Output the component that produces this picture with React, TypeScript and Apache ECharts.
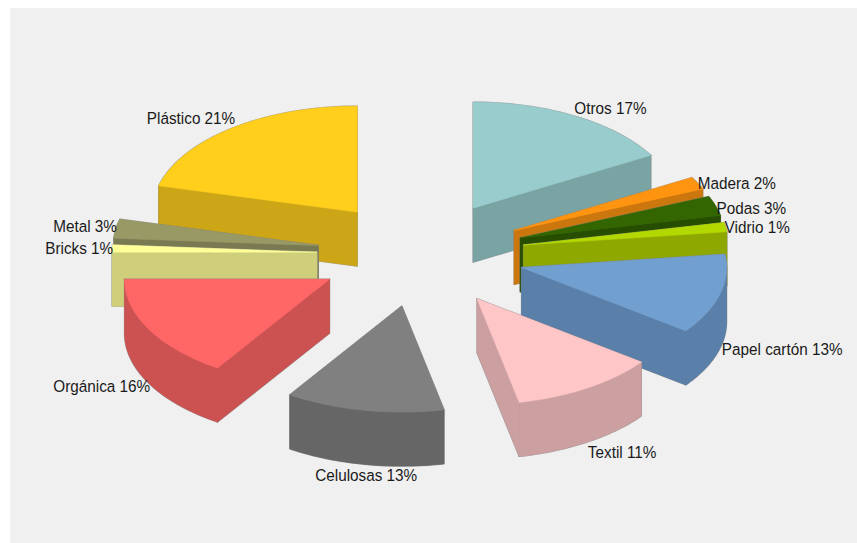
import React, { useEffect, useRef } from "react";
import * as echarts from "echarts";

const categories = ["Otros", "Madera", "Podas", "Vidrio", "Papel cartón", "Textil", "Celulosas", "Orgánica", "Bricks", "Metal", "Plástico"];
const values = [16.7, 1.9, 3, 1.4, 12.2, 11.5, 12.5, 15.8, 1.1, 2.9, 21];
const percentLabels = [17, 2, 3, 1, 13, 11, 13, 16, 1, 3, 21];
const topColors = ["#99CCCC", "#FF9411", "#336600", "#B3D800", "#709FD0", "#FFC6C8", "#808080", "#FF6666", "#FFFF99", "#999966", "#FFCF1C"];
const wallColors = ["#7AA3A3", "#CC770E", "#264D00", "#8FA800", "#5A7FA8", "#CC9FA0", "#666666", "#CC5252", "#CFCE7B", "#7A7A52", "#CCA616"];
const labelNudgeX = [-1, 1, 2, 0, 3, 1, 2, 0, 0, 0, 3];
const labelNudgeY = [1, 4, 5, 1, -3, 0, 0, -3, 0, -1, -2];

const CX = 421, CY = 254, RX = 205, RY = 106, DEPTH = 54, EXPLODE_X = 104, EXPLODE_Y = 53;
const LABEL_RX = 308, LABEL_RY = 170;
const TEXT_SCALE = 0.9;
const TOTAL = values.reduce((a, b) => a + b, 0);

type Slice = { i: number; a0: number; a1: number; mid: number };
let acc = 0;
const slices: Slice[] = values.map((v, i) => {
  const a0 = (acc / TOTAL) * Math.PI * 2;
  acc += v;
  const a1 = (acc / TOTAL) * Math.PI * 2;
  return { i, a0, a1, mid: (a0 + a1) / 2 };
});
// painter's order: far slices first
const drawOrder = [...slices].sort((p, q) => Math.cos(q.mid) - Math.cos(p.mid)).map((s) => s.i);

function arcPts(ax: number, ay: number, from: number, to: number, dz = 0): number[][] {
  const n = Math.max(2, Math.ceil(Math.abs(to - from) / 0.02));
  const out: number[][] = [];
  for (let k = 0; k <= n; k++) {
    const t = from + ((to - from) * k) / n;
    out.push([ax + RX * Math.sin(t), ay - RY * Math.cos(t) + dz]);
  }
  return out;
}

function renderSlice(_params: any, api: any) {
  const idx = api.value(0) as number;
  const s = slices[idx];
  const ax = CX + EXPLODE_X * Math.sin(s.mid);
  const ay = CY - EXPLODE_Y * Math.cos(s.mid);
  const top = topColors[idx];
  const wall = wallColors[idx];
  const faces: { pts: number[][]; fill: string }[] = [];

  // radial walls
  if (Math.sin(s.a0) < 0) {
    const [p] = arcPts(ax, ay, s.a0, s.a0 + 0.01);
    faces.push({ pts: [[ax, ay], p, [p[0], p[1] + DEPTH], [ax, ay + DEPTH]], fill: wall });
  }
  if (Math.sin(s.a1) > 0) {
    const [p] = arcPts(ax, ay, s.a1, s.a1 + 0.01);
    faces.push({ pts: [[ax, ay], p, [p[0], p[1] + DEPTH], [ax, ay + DEPTH]], fill: wall });
  }
  // curved outer wall, only the part facing the viewer
  const f0 = Math.max(s.a0, Math.PI / 2);
  const f1 = Math.min(s.a1, (Math.PI * 3) / 2);
  if (f1 > f0) {
    const upper = arcPts(ax, ay, f0, f1);
    const lower = arcPts(ax, ay, f1, f0, DEPTH);
    faces.push({ pts: [...upper, ...lower], fill: wall });
  }
  // top face
  faces.push({ pts: [[ax, ay], ...arcPts(ax, ay, s.a0, s.a1)], fill: top });

  const children: any[] = [];
  faces.forEach((f) => {
    children.push({
      type: "polygon",
      shape: { points: f.pts },
      style: { fill: f.fill, stroke: "rgba(130,130,130,0.7)", lineWidth: 1.4, lineJoin: "round" },
    });
  });
  faces.forEach((f) => {
    children.push({
      type: "polygon",
      shape: { points: f.pts },
      style: { fill: f.fill, stroke: f.fill, lineWidth: 0.6, lineJoin: "round" },
    });
  });
  return { type: "group", children };
}

function renderLabel(_params: any, api: any) {
  const idx = api.value(0) as number;
  const s = slices[idx];
  const sn = Math.sin(s.mid);
  const cs = Math.cos(s.mid);
  const central = Math.abs(sn) < 0.3;
  return {
    type: "text",
    x: CX + LABEL_RX * sn + labelNudgeX[idx],
    y: CY - LABEL_RY * cs + (cs < 0 ? DEPTH : 0) + labelNudgeY[idx],
    scaleX: TEXT_SCALE,
    style: {
      text: `${categories[idx]} ${percentLabels[idx]}%`,
      x: 0,
      y: 0,
      align: central ? "center" : sn > 0 ? "left" : "right",
      verticalAlign: "middle",
      fill: "#1a1a1a",
      font: '17px "Liberation Sans", sans-serif',
    },
  };
}

export default function App() {
  const ref = useRef<HTMLDivElement>(null);
  useEffect(() => {
    const chart = echarts.init(ref.current!, undefined, { renderer: "svg" });
    chart.setOption({
      animation: false,
      backgroundColor: "#ffffff",
      graphic: [
        { type: "rect", z: -1, shape: { x: 10, y: 8, width: 847, height: 535 }, style: { fill: "#F0F0F0" } },
      ],
      series: [
        {
          type: "custom",
          coordinateSystem: "none",
          silent: true,
          z: 2,
          data: drawOrder.map((i) => [i]),
          renderItem: renderSlice,
        },
        {
          type: "custom",
          coordinateSystem: "none",
          silent: true,
          z: 3,
          data: categories.map((_, i) => [i]),
          renderItem: renderLabel,
        },
      ],
    });
    return () => chart.dispose();
  }, []);
  return <div ref={ref} style={{ position: "fixed", left: 0, top: 0, width: 857, height: 543 }} />;
}
